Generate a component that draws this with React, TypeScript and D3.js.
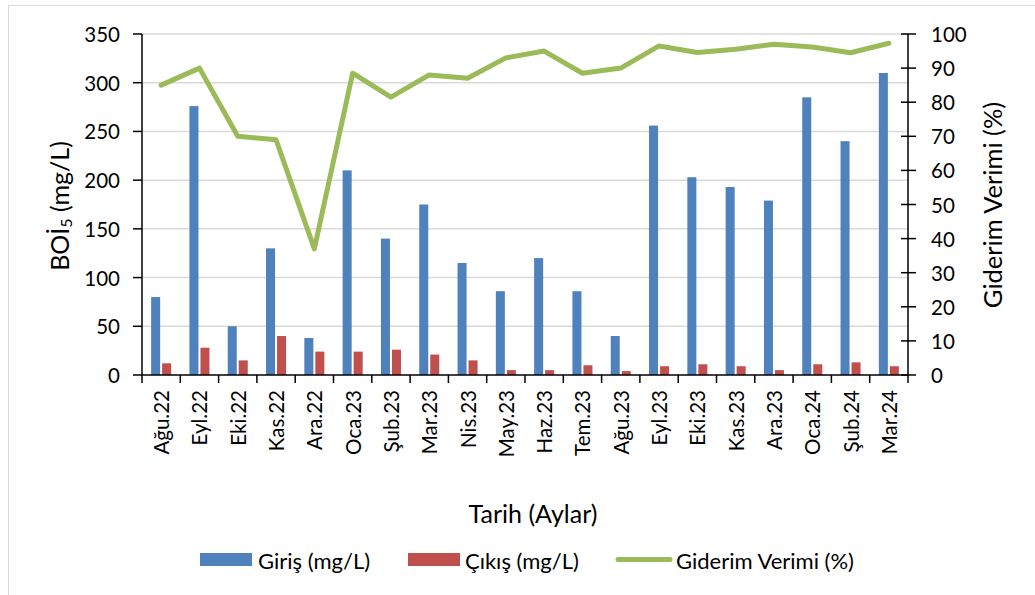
import React from 'react';
import * as d3 from 'd3';

// monthly BOİ5 values
const categories = [
    'Ağu.22', 'Eyl.22', 'Eki.22', 'Kas.22', 'Ara.22', 'Oca.23', 'Şub.23', 'Mar.23', 'Nis.23', 'May.23',
    'Haz.23', 'Tem.23', 'Ağu.23', 'Eyl.23', 'Eki.23', 'Kas.23', 'Ara.23', 'Oca.24', 'Şub.24', 'Mar.24',
];
const giris = [80, 276, 50, 130, 38, 210, 140, 175, 115, 86, 120, 86, 40, 256, 203, 193, 179, 285, 240, 310];
const cikis = [12, 28, 15, 40, 24, 24, 26, 21, 15, 5, 5, 10, 4, 9, 11, 9, 5, 11, 13, 9];
const verim = [85, 90, 70, 69, 37, 88.5, 81.5, 88, 87, 93, 95, 88.5, 90, 96.5, 94.6, 95.5, 97, 96.2, 94.5, 97.3];

const leftTicks = [0, 50, 100, 150, 200, 250, 300, 350];
const rightTicks = [0, 10, 20, 30, 40, 50, 60, 70, 80, 90, 100];

const BLUE = '#4F81BD';
const RED = '#C0504D';
const GREEN = '#9BBB59';
const FONT = 'Lato, "Open Sans", sans-serif';

export default function App() {
    const width = 1035;
    const height = 595;
    const margin = { left: 142, right: 1035 - 908, top: 34, bottom: 595 - 375 };
    const x0 = margin.left;
    const x1 = width - margin.right;
    const y0 = height - margin.bottom;
    const y1 = margin.top;

    const x = d3.scaleBand<string>().domain(categories).range([x0, x1]);
    const xs = d3.scaleBand<string>().domain(['giris', 'cikis']).range([0, x.bandwidth()]).paddingInner(0.18).paddingOuter(0.83);
    const yL = d3.scaleLinear().domain([0, 350]).range([y0, y1]);
    const yR = d3.scaleLinear().domain([0, 100]).range([y0, y1]);

    const line = d3
        .line<number>()
        .x((_, i) => (x(categories[i]) as number) + x.bandwidth() / 2)
        .y((d) => yR(d));

    const bounds = categories.map((c) => x(c) as number).concat([x1]);

    return (
        <svg width={width} height={height} style={{ position: 'absolute', left: 0, top: 0, background: '#fff' }} fontFamily={FONT}>
            <rect x={8.5} y={5.5} width={1040} height={600} fill="#fff" stroke="#D9D9D9" strokeWidth={1} />

            {/* grid */}
            {leftTicks.slice(1).map((t) => (
                <line key={t} x1={x0} x2={x1} y1={yL(t)} y2={yL(t)} stroke="#D9D9D9" strokeWidth={1.5} />
            ))}

            {/* bars */}
            {categories.map((c, i) => (
                <g key={c} transform={`translate(${x(c)},0)`}>
                    <rect x={xs('giris')} y={yL(giris[i])} width={xs.bandwidth()} height={y0 - yL(giris[i])} fill={BLUE} />
                    <rect x={xs('cikis')} y={yL(cikis[i])} width={xs.bandwidth()} height={y0 - yL(cikis[i])} fill={RED} />
                </g>
            ))}

            <path d={line(verim) || ''} fill="none" stroke={GREEN} strokeWidth={5} strokeLinejoin="round" strokeLinecap="round" />

            {/* left axis */}
            <line x1={x0} x2={x0} y1={y1} y2={y0} stroke="#000" strokeWidth={1.5} />
            {leftTicks.map((t) => (
                <g key={t}>
                    <line x1={x0 - 9} x2={x0} y1={yL(t)} y2={yL(t)} stroke="#000" strokeWidth={1.5} />
                    <text x={x0 - 22} y={yL(t)} textAnchor="end" dominantBaseline="central" fontSize={20.5} fill="#000">
                        {t}
                    </text>
                </g>
            ))}

            {/* right axis */}
            <line x1={x1} x2={x1} y1={y1} y2={y0} stroke="#000" strokeWidth={1.5} />
            {rightTicks.map((t) => (
                <g key={t}>
                    <line x1={x1 - 7} x2={x1 + 8} y1={yR(t)} y2={yR(t)} stroke="#000" strokeWidth={1.5} />
                    <text x={x1 + 23} y={yR(t)} textAnchor="start" dominantBaseline="central" fontSize={20.5} fill="#000">
                        {t}
                    </text>
                </g>
            ))}

            {/* bottom axis */}
            <line x1={x0} x2={x1} y1={y0} y2={y0} stroke="#000" strokeWidth={1.5} />
            {bounds.map((b, i) => (
                <line key={i} x1={b} x2={b} y1={y0} y2={y0 + 8} stroke="#000" strokeWidth={1.5} />
            ))}
            {categories.map((c) => {
                const cx = (x(c) as number) + x.bandwidth() / 2;
                return (
                    <text key={c} transform={`translate(${cx},${y0 + 15}) rotate(-90)`} textAnchor="end" dominantBaseline="central" fontSize={20.5} fill="#000">
                        {c}
                    </text>
                );
            })}

            {/* axis titles */}
            <text transform="translate(59,206) rotate(-90)" textAnchor="middle" dominantBaseline="central" fontSize={25} fill="#000">
                BOİ<tspan fontSize={16} dy={6}>5</tspan>
                <tspan dy={-6}> (mg/L)</tspan>
            </text>
            <text transform="translate(992,205) rotate(-90)" textAnchor="middle" dominantBaseline="central" fontSize={25.5} fill="#000">
                Giderim Verimi (%)
            </text>
            <text x={533} y={513} textAnchor="middle" dominantBaseline="central" fontSize={25} fill="#000">
                Tarih (Aylar)
            </text>

            {/* legend */}
            <rect x={200} y={553} width={52} height={13} fill={BLUE} />
            <text x={258} y={560} dominantBaseline="central" fontSize={22} fill="#000">Giriş (mg/L)</text>
            <rect x={408} y={553} width={52} height={13} fill={RED} />
            <text x={465} y={560} dominantBaseline="central" fontSize={22} fill="#000">Çıkış (mg/L)</text>
            <line x1={618} x2={670} y1={559.5} y2={559.5} stroke={GREEN} strokeWidth={5} strokeLinecap="round" />
            <text x={676} y={560} dominantBaseline="central" fontSize={22} fill="#000">Giderim Verimi (%)</text>
        </svg>
    );
}
